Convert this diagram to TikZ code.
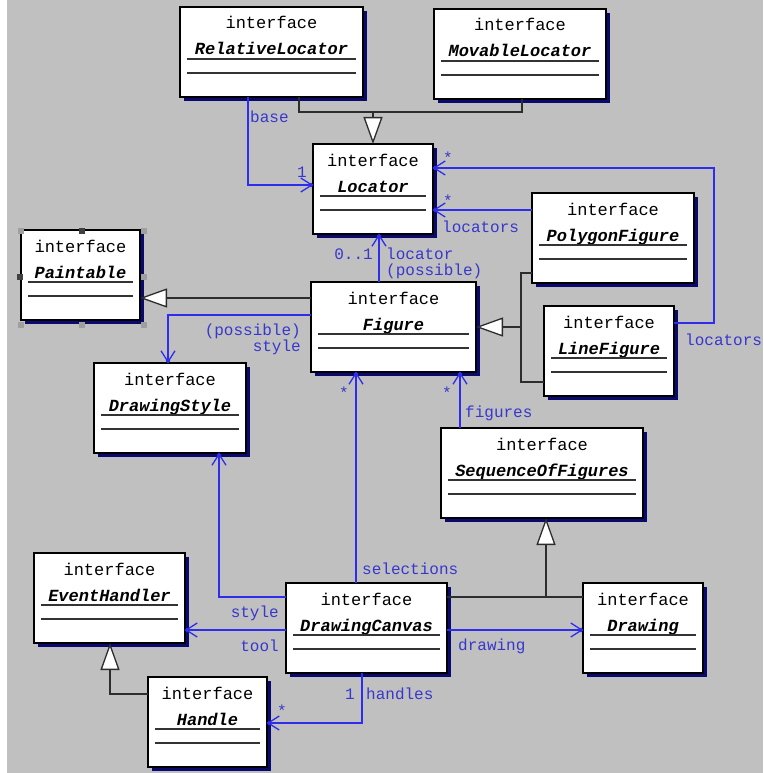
\documentclass[tikz,border=0pt]{standalone}
\usepackage{fontspec}
\newfontfamily\cour{Liberation Mono}
\usetikzlibrary{arrows.meta,calc}
\definecolor{bg}{RGB}{192,192,192}
\definecolor{shd}{RGB}{10,10,110}
\definecolor{assocblue}{RGB}{45,45,235}
\definecolor{lblblue}{RGB}{55,55,205}
\definecolor{inhgray}{RGB}{45,45,45}
\tikzset{
 cls/.style={draw=black, line width=1.4pt, fill=white, minimum height=90pt, anchor=north west, inner sep=0pt, outer sep=0pt},
 itf/.style={font=\cour\fontsize{17}{17}\selectfont, inner sep=0pt, anchor=base},
 nm/.style={font=\cour\bfseries\itshape\fontsize{17}{17}\selectfont, inner sep=0pt, anchor=base},
 sepl/.style={draw=black!80, line width=1.3pt},
 assoc/.style={draw=assocblue, line width=1.3pt, -{Straight Barb[length=11pt,width=14pt,sep=-4pt] Circle[length=4pt]}},
 inh/.style={draw=inhgray, line width=1.3pt},
 gentip/.style={-{Triangle[open,length=27pt,width=19pt,fill=white]}},
 lbl/.style={font=\cour\fontsize{16}{16}\selectfont, text=lblblue, inner sep=0pt}
}
\newcommand\umlcls[5]{%
  \fill[shd] ({#2+4},{#3+4}) rectangle ({#2+#4+4},{#3+94});
  \node[cls, minimum width=#4pt] (#1) at (#2,#3) {};
  \node[itf] at ($(#1.north)+(0,22)$) {interface};
  \node[nm] at ($(#1.north)+(0,48)$) {#5};
  \draw[sepl] ([xshift=7pt,yshift=-52pt]#1.north west) -- ([xshift=-7pt,yshift=-52pt]#1.north east);
  \draw[sepl] ([xshift=7pt,yshift=-66pt]#1.north west) -- ([xshift=-7pt,yshift=-66pt]#1.north east);
}
\begin{document}
\begin{tikzpicture}[x=1pt,y=-1pt]
\useasboundingbox (0,0) rectangle (763,773);
\fill[white] (0,0) rectangle (763,773);
\fill[bg] (7,0) rectangle (763,773);

\umlcls{rel}{180}{7}{183}{RelativeLocator}
\umlcls{mov}{434}{9}{172}{MovableLocator}
\umlcls{loc}{313}{144}{120}{Locator}
\umlcls{pnt}{21}{230}{119}{Paintable}
\umlcls{fig}{311}{282}{165}{Figure}
\umlcls{poly}{532}{193}{162}{PolygonFigure}
\umlcls{lin}{544}{306}{130}{LineFigure}
\umlcls{sty}{94}{363}{152}{DrawingStyle}
\umlcls{seq}{441}{428}{202}{SequenceOfFigures}
\umlcls{evt}{34}{553}{151}{EventHandler}
\umlcls{cnv}{286}{583}{161}{DrawingCanvas}
\umlcls{drw}{583}{583}{120}{Drawing}
\umlcls{hdl}{148}{677}{119}{Handle}

% selection handles on Paintable
\foreach \hx/\hy in {18/228,141/228,141/274,18/322,79/322,141/322}
  \fill[gray!75] (\hx,\hy) rectangle +(6,6);
\fill[black!75] (79,228) rectangle +(6,6);
\fill[black!75] (17,274) rectangle +(6,6);

% inheritance
\coordinate (j1) at (373,112);
\draw[inh] ([xshift=119pt]rel.south west) |- (j1) -| ([xshift=88pt]mov.south west);
\draw[inh,gentip] (j1) -- (loc.north);
\draw[inh,gentip] ([yshift=-16pt]fig.north west) -- ([yshift=-68pt]pnt.north east);
\coordinate (j2) at (521,327);
\draw[inh] ([yshift=-80pt]poly.north west) -| ([xshift=-23pt,yshift=-76pt]lin.north west) -- ([yshift=-76pt]lin.north west);
\draw[inh,gentip] (j2) -- (fig.east);
\coordinate (j3) at (546,597);
\draw[inh] ([yshift=-14pt]cnv.north east) -- ([yshift=-14pt]drw.north west);
\draw[inh,gentip] (j3) -- ([xshift=105pt]seq.south west);
\draw[inh,gentip] ([yshift=-17pt]hdl.north west) -| ([xshift=76pt]evt.south west);

% associations
\draw[assoc] ([xshift=68pt]rel.south west) |- ([yshift=-41pt]loc.north west);
\draw[assoc] ([xshift=68pt]fig.north west) -- ([xshift=66pt]loc.south west);
\draw[assoc] ([yshift=-17pt]poly.north west) -- ([yshift=-66pt]loc.north east);
\draw[assoc] ([yshift=-17pt]lin.north east) -- ++(40,0) |- ([yshift=-24pt]loc.north east);
\draw[assoc] ([yshift=-33pt]fig.north west) -| ([xshift=74pt]sty.north west);
\draw[assoc] ([xshift=70pt]cnv.north west) -- ([xshift=45pt]fig.south west);
\draw[assoc] ([xshift=19pt]seq.north west) -- ([xshift=149pt]fig.south west);
\draw[assoc] ([yshift=-47pt]cnv.north east) -- ([yshift=-47pt]drw.north west);
\draw[assoc] ([yshift=-14pt]cnv.north west) -| ([xshift=125pt]sty.south west);
\draw[assoc] ([yshift=-47pt]cnv.north west) -- ([yshift=-77pt]evt.north east);
\draw[assoc] ([xshift=76pt]cnv.south west) |- ([yshift=-46pt]hdl.north east);

% labels
\node[lbl, anchor=base west] (lbase) at (250,123) {base};
\node[lbl, anchor=base west] (lone) at (297,177) {1};
\node[lbl, anchor=base east] (lzo) at (373,259) {0..1};
\node[lbl, anchor=base west] (lloc) at (386,259) {locator};
\node[lbl, anchor=base west] (lposs) at (386,275) {(possible)};
\node[lbl, anchor=base] (ls1) at (448,163) {*};
\node[lbl, anchor=base] (ls2) at (448,206) {*};
\node[lbl, anchor=base west] (llocs1) at (442,232) {locators};
\node[lbl, anchor=base west] (llocs2) at (685,345) {locators};
\node[lbl, anchor=base east] (lposs2) at (301,335) {(possible)};
\node[lbl, anchor=base east] (lsty1) at (301,351) {style};
\node[lbl, anchor=base] (ls3) at (344,398) {*};
\node[lbl, anchor=base] (ls4) at (447,398) {*};
\node[lbl, anchor=base west] (lfig) at (465,417) {figures};
\node[lbl, anchor=base west] (lsel) at (362,574) {selections};
\node[lbl, anchor=base east] (lsty2) at (279,617) {style};
\node[lbl, anchor=base east] (ltool) at (279,651) {tool};
\node[lbl, anchor=base west] (ldraw) at (458,650) {drawing};
\node[lbl, anchor=base west] (lone2) at (345,699) {1};
\node[lbl, anchor=base west] (lhand) at (366,699) {handles};
\node[lbl, anchor=base] (ls5) at (282,716) {*};
\end{tikzpicture}
\end{document}
